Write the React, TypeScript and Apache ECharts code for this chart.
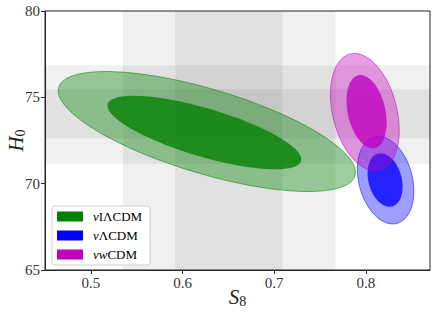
import React, { useEffect, useRef } from "react";
import * as echarts from "echarts";

// ---- data ----
const models = ["νIΛCDM", "νΛCDM", "νwCDM"];
// contour ellipses: [centre S8, centre H0, half-width S8, half-height H0, correlation]
// outer (2σ) first, inner (1σ) second
const contoursIL = [
  [0.6266, 73.02, 0.1621, 3.474, -0.68],
  [0.6238, 72.96, 0.1057, 2.13, -0.73],
];
const contoursL = [
  [0.8216, 70.2, 0.0308, 2.53, -0.25],
  [0.821, 70.21, 0.0191, 1.546, -0.25],
];
const contoursW = [
  [0.7989, 74.14, 0.0375, 3.4, -0.3],
  [0.8008, 74.17, 0.0219, 2.12, -0.3],
];
// observational bands: [low, high] for 2σ then 1σ
const s8Bands = [
  [0.535, 0.767],
  [0.592, 0.709],
];
const h0Bands = [
  [71.16, 76.86],
  [72.61, 75.47],
];
const xTicks = [0.5, 0.6, 0.7, 0.8];
const yTicks = [65, 70, 75, 80];

const colors = ["#008000", "#0000ff", "#bf00bf"];
const rgb = [
  [0, 128, 0],
  [0, 0, 255],
  [191, 0, 191],
];
const SERIF = "'Liberation Serif', 'DejaVu Serif', serif";

function makeRender(ci: number) {
  const [r, g, b] = rgb[ci];
  return (params: any, api: any) => {
    const cx = api.value(0);
    const cy = api.value(1);
    const dx = api.value(2);
    const dy = api.value(3);
    const rho = api.value(4);
    const s = Math.sqrt(1 - rho * rho);
    const pts: number[][] = [];
    const N = 160;
    for (let k = 0; k < N; k++) {
      const t = (2 * Math.PI * k) / N;
      const x = cx + dx * Math.cos(t);
      const y = cy + dy * (rho * Math.cos(t) + s * Math.sin(t));
      pts.push(api.coord([x, y]));
    }
    const outer = params.dataIndex === 0;
    return {
      type: "polygon",
      shape: { points: pts },
      style: outer
        ? {
            fill: `rgba(${r},${g},${b},0.38)`,
            stroke: `rgba(${r},${g},${b},0.55)`,
            lineWidth: 1,
          }
        : {
            fill: `rgba(${r},${g},${b},0.78)`,
            stroke: "none",
          },
    };
  };
}

export default function App() {
  const ref = useRef<HTMLDivElement>(null);
  useEffect(() => {
    document.body.style.margin = "0";
    const chart = echarts.init(ref.current!, undefined, { renderer: "svg" });
    const bandData: any[] = [];
    s8Bands.forEach((b) => bandData.push([{ xAxis: b[0] }, { xAxis: b[1] }]));
    h0Bands.forEach((b) => bandData.push([{ yAxis: b[0] }, { yAxis: b[1] }]));
    const contourSets = [contoursIL, contoursL, contoursW];
    chart.setOption({
      animation: false,
      grid: {
        left: 45,
        right: 6,
        top: 11,
        bottom: 52,
        show: true,
        borderColor: "#262626",
        borderWidth: 1,
        outerBoundsMode: "none",
      },
      legend: {
        data: models,
        orient: "vertical",
        left: 52,
        top: 206,
        itemWidth: 26,
        itemHeight: 10,
        itemGap: 6,
        icon: "rect",
        backgroundColor: "#fff",
        borderColor: "#d0d0d0",
        borderWidth: 1,
        borderRadius: 3,
        padding: [4, 8, 4, 5],
        formatter: (name: string) =>
          name.replace(/ν/g, "{i|ν}").replace(/w/, "{i|w}"),
        textStyle: {
          fontFamily: SERIF,
          fontSize: 13,
          color: "#000",
          lineHeight: 12,
          padding: [0, 0, 0, 5],
          rich: {
            i: { fontFamily: SERIF, fontSize: 13, fontStyle: "italic", color: "#000" },
          },
        },
      },
      xAxis: {
        type: "value",
        min: 0.45,
        max: 0.87,
        splitLine: { show: false },
        axisLine: { lineStyle: { color: "#262626", width: 1 } },
        axisTick: { show: true, length: 4, customValues: xTicks, lineStyle: { color: "#262626" } },
        axisLabel: {
          customValues: xTicks,
          fontFamily: SERIF,
          fontSize: 15,
          color: "#333",
          margin: 5,
        },
        name: "{i|S}{s|8}",
        nameLocation: "middle",
        nameGap: 16,
        nameMoveOverlap: false,
        nameTextStyle: {
          rich: {
            i: { fontFamily: SERIF, fontSize: 21, fontStyle: "italic", color: "#222" },
            s: { fontFamily: SERIF, fontSize: 14, color: "#222", padding: [8, 0, 0, 0] },
          },
        },
      },
      yAxis: {
        type: "value",
        min: 65,
        max: 80,
        interval: 5,
        splitLine: { show: false },
        axisLine: { show: true, lineStyle: { color: "#262626", width: 1 } },
        axisTick: { show: true, length: 4, lineStyle: { color: "#262626" } },
        axisLabel: {
          fontFamily: SERIF,
          fontSize: 15,
          color: "#333",
          margin: 5,
          customValues: yTicks,
        },
        name: "{i|H}{s|0}",
        nameLocation: "middle",
        nameRotate: 90,
        nameGap: 18,
        nameMoveOverlap: false,
        nameTextStyle: {
          rich: {
            i: { fontFamily: SERIF, fontSize: 21, fontStyle: "italic", color: "#222" },
            s: { fontFamily: SERIF, fontSize: 14, color: "#222", padding: [8, 0, 0, 0] },
          },
        },
      },
      series: [
        {
          type: "line",
          name: "bands",
          data: [],
          silent: true,
          z: 1,
          markArea: {
            silent: true,
            itemStyle: { color: "rgba(0,0,0,0.06)", borderWidth: 0 },
            data: bandData,
          },
        },
        ...models.map((m, i) => ({
          type: "custom",
          name: m,
          z: 2 + i,
          itemStyle: { color: colors[i] },
          dimensions: ["x", "y", "dx", "dy", "rho"],
          encode: { x: 0, y: 1 },
          renderItem: makeRender(i),
          data: contourSets[i],
        })),
      ],
    });
    return () => chart.dispose();
  }, []);
  return <div ref={ref} style={{ width: 436, height: 322 }} />;
}
